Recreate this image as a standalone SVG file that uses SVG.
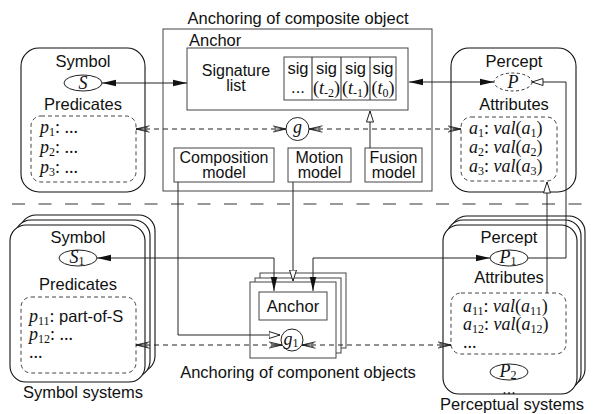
<svg xmlns="http://www.w3.org/2000/svg" width="598" height="414" viewBox="0 0 598 414">
  <style>
    .t { font-family: "Liberation Sans", Arial, sans-serif; font-size: 16.5px; fill: #111; }
    .t2 { font-family: "Liberation Sans", Arial, sans-serif; font-size: 16px; fill: #111; }
    .c { text-anchor: middle; }
    .m { font-family: "Liberation Serif", "Times New Roman", serif; font-size: 18px; fill: #111; }
    .i { font-style: italic; }
    .sb { font-size: 12px; }
    .sys { fill: #fff; stroke: #111; stroke-width: 1.1; }
    .box { fill: #fff; stroke: #444; stroke-width: 1; }
    .dbox { fill: none; stroke: #444; stroke-width: 1; stroke-dasharray: 4 3; }
    .ln { fill: none; stroke: #222; stroke-width: 1; }
    .dl { fill: none; stroke: #222; stroke-width: 1; stroke-dasharray: 5 4; }
    .ell { fill: #fff; stroke: #222; stroke-width: 1; }
  </style>
  <defs>
    <marker id="fill" viewBox="0 0 14 8" refX="14" refY="4" markerWidth="14" markerHeight="8" markerUnits="userSpaceOnUse" orient="auto-start-reverse">
      <path d="M0 0.8 L14 4 L0 7.2 Z" fill="#111"/>
    </marker>
    <marker id="tri" viewBox="0 0 12 8" refX="11.5" refY="4" markerWidth="12" markerHeight="8" markerUnits="userSpaceOnUse" orient="auto-start-reverse">
      <path d="M0.5 0.5 L11.5 4 L0.5 7.5 Z" fill="#fff" stroke="#222" stroke-width="1"/>
    </marker>
    <marker id="vee" viewBox="0 0 14 8" refX="13.5" refY="4" markerWidth="14" markerHeight="8" markerUnits="userSpaceOnUse" orient="auto-start-reverse">
      <path d="M0 0.8 L13.5 4 L0 7.2 M2 2.6 L13.5 4 L2 5.4" fill="none" stroke="#222" stroke-width="0.9"/>
    </marker>
  </defs>

  <!-- separator between composite and component level -->
  <line x1="12" y1="204" x2="592" y2="204" stroke="#333" stroke-width="1" stroke-dasharray="13 13.5"/>

  <!-- symbol system (composite) -->
  <g id="symbol-top">
    <rect class="sys" x="21" y="48" width="124" height="144" rx="18"/>
    <text class="t c" x="83" y="67">Symbol</text>
    <ellipse class="ell" cx="83" cy="83" rx="19" ry="8"/>
    <text class="m i c" x="83" y="89">S</text>
    <text class="t c" x="83" y="110">Predicates</text>
    <rect class="dbox" x="31" y="116" width="105" height="66" rx="10"/>
    <text class="m" x="40" y="133"><tspan class="i">p</tspan><tspan class="sb" dy="3">1</tspan><tspan dy="-3">: ...</tspan></text>
    <text class="m" x="40" y="153"><tspan class="i">p</tspan><tspan class="sb" dy="3">2</tspan><tspan dy="-3">: ...</tspan></text>
    <text class="m" x="40" y="173"><tspan class="i">p</tspan><tspan class="sb" dy="3">3</tspan><tspan dy="-3">: ...</tspan></text>
  </g>

  <!-- anchor of the composite object -->
  <g id="anchor-composite">
    <text class="t c" x="298" y="24">Anchoring of composite object</text>
    <rect class="box" x="163" y="29" width="269" height="162"/>
    <text class="t" x="189" y="46">Anchor</text>
    <rect class="box" x="187" y="48" width="221" height="62"/>
    <text class="t2 c" x="236" y="76">Signature</text>
    <text class="t2 c" x="236" y="91">list</text>
    <rect class="box" x="284" y="57" width="112" height="43"/>
    <line class="ln" x1="312" y1="57" x2="312" y2="100" stroke="#444"/>
    <line class="ln" x1="341" y1="57" x2="341" y2="100" stroke="#444"/>
    <line class="ln" x1="370" y1="57" x2="370" y2="100" stroke="#444"/>
    <text class="t c" x="298" y="74">sig</text>
    <text class="t c" x="326.5" y="74">sig</text>
    <text class="t c" x="355.5" y="74">sig</text>
    <text class="t c" x="383" y="74">sig</text>
    <text class="t c" x="298" y="93">...</text>
    <text class="m c" x="326.5" y="94">(<tspan class="i">t</tspan><tspan class="sb" dy="3">-2</tspan><tspan dy="-3">)</tspan></text>
    <text class="m c" x="355.5" y="94">(<tspan class="i">t</tspan><tspan class="sb" dy="3">-1</tspan><tspan dy="-3">)</tspan></text>
    <text class="m c" x="383" y="94">(<tspan class="i">t</tspan><tspan class="sb" dy="3">0</tspan><tspan dy="-3">)</tspan></text>
    <circle class="ell" cx="297.5" cy="129" r="11.5"/>
    <text class="m i c" x="297.5" y="133">g</text>
    <rect class="box" x="174" y="148" width="100" height="34"/>
    <text class="t2 c" x="224" y="163">Composition</text>
    <text class="t2 c" x="224" y="178">model</text>
    <rect class="box" x="288" y="148" width="63" height="34"/>
    <text class="t2 c" x="319.5" y="163">Motion</text>
    <text class="t2 c" x="319.5" y="178">model</text>
    <rect class="box" x="365" y="148" width="57" height="34"/>
    <text class="t2 c" x="393.5" y="163">Fusion</text>
    <text class="t2 c" x="393.5" y="178">model</text>
  </g>

  <!-- perceptual system (composite) -->
  <g id="percept-top">
    <rect class="sys" x="451" y="48" width="125" height="144" rx="18"/>
    <text class="t c" x="514" y="67">Percept</text>
    <ellipse cx="513" cy="82" rx="19" ry="9" fill="#fff" stroke="#333" stroke-dasharray="3 2.5"/>
    <text class="m i c" x="513" y="88">P</text>
    <text class="t c" x="514" y="110">Attributes</text>
    <rect class="dbox" x="461" y="117" width="96" height="64" rx="10"/>
    <text class="m" x="469" y="134"><tspan class="i">a</tspan><tspan class="sb" dy="3">1</tspan><tspan dy="-3">: </tspan><tspan class="i">val</tspan>(<tspan class="i">a</tspan><tspan class="sb" dy="3">1</tspan><tspan dy="-3">)</tspan></text>
    <text class="m" x="469" y="153"><tspan class="i">a</tspan><tspan class="sb" dy="3">2</tspan><tspan dy="-3">: </tspan><tspan class="i">val</tspan>(<tspan class="i">a</tspan><tspan class="sb" dy="3">2</tspan><tspan dy="-3">)</tspan></text>
    <text class="m" x="469" y="172"><tspan class="i">a</tspan><tspan class="sb" dy="3">3</tspan><tspan dy="-3">: </tspan><tspan class="i">val</tspan>(<tspan class="i">a</tspan><tspan class="sb" dy="3">3</tspan><tspan dy="-3">)</tspan></text>
  </g>

  <!-- symbol systems (components) -->
  <g id="symbol-systems">
    <rect class="sys" x="20" y="215" width="135" height="157" rx="16"/>
    <rect class="sys" x="15" y="220" width="135" height="157" rx="16"/>
    <rect class="sys" x="10" y="225" width="135" height="157" rx="16"/>
    <text class="t c" x="78" y="243">Symbol</text>
    <ellipse class="ell" cx="78" cy="258" rx="19" ry="8"/>
    <text class="m c" x="77" y="263"><tspan class="i">S</tspan><tspan class="sb" dy="2">1</tspan></text>
    <text class="t c" x="78" y="290">Predicates</text>
    <rect class="dbox" x="21" y="297" width="115" height="76" rx="10"/>
    <text class="m" x="29" y="322"><tspan class="i">p</tspan><tspan class="sb" dy="3">11</tspan><tspan dy="-3">: </tspan><tspan class="t">part-of-S</tspan></text>
    <text class="m" x="29" y="340"><tspan class="i">p</tspan><tspan class="sb" dy="3">12</tspan><tspan dy="-3">: ...</tspan></text>
    <text class="m" x="29" y="358">...</text>
    <text class="t c" x="83" y="398">Symbol systems</text>
  </g>

  <!-- anchors of the component objects -->
  <g id="anchor-components">
    <rect class="box" x="260" y="273" width="86" height="75"/>
    <rect class="box" x="255" y="278" width="86" height="75"/>
    <rect class="box" x="250" y="282" width="86" height="76"/>
    <rect class="box" x="259" y="292" width="68" height="28"/>
    <text class="t c" x="293" y="312">Anchor</text>
    <circle class="ell" cx="292" cy="340" r="11"/>
    <text class="m c" x="291" y="345"><tspan class="i">g</tspan><tspan class="sb" dy="2">1</tspan></text>
    <text class="t c" x="298" y="378">Anchoring of component objects</text>
  </g>

  <!-- perceptual systems (components) -->
  <g id="perceptual-systems">
    <rect class="sys" x="451" y="216" width="134" height="169" rx="16"/>
    <rect class="sys" x="447" y="220" width="134" height="169" rx="16"/>
    <rect class="sys" x="443" y="225" width="134" height="169" rx="16"/>
    <text class="t c" x="509" y="243">Percept</text>
    <ellipse class="ell" cx="509" cy="258" rx="19" ry="8"/>
    <text class="m c" x="508" y="263"><tspan class="i">P</tspan><tspan class="sb" dy="2">1</tspan></text>
    <text class="t c" x="509" y="283">Attributes</text>
    <rect class="dbox" x="451" y="293" width="115" height="61" rx="10"/>
    <text class="m" x="463" y="312"><tspan class="i">a</tspan><tspan class="sb" dy="3">11</tspan><tspan dy="-3">: </tspan><tspan class="i">val</tspan>(<tspan class="i">a</tspan><tspan class="sb" dy="3">11</tspan><tspan dy="-3">)</tspan></text>
    <text class="m" x="463" y="330"><tspan class="i">a</tspan><tspan class="sb" dy="3">12</tspan><tspan dy="-3">: </tspan><tspan class="i">val</tspan>(<tspan class="i">a</tspan><tspan class="sb" dy="3">12</tspan><tspan dy="-3">)</tspan></text>
    <text class="m" x="463" y="348">...</text>
    <ellipse class="ell" cx="509" cy="372" rx="19" ry="8"/>
    <text class="m c" x="508" y="377"><tspan class="i">P</tspan><tspan class="sb" dy="2">2</tspan></text>
    <text class="t2 c" x="509" y="394">...</text>
    <text class="t c" x="512" y="410">Perceptual systems</text>
  </g>

  <!-- connectors -->
  <g id="connectors">
    <path class="ln" d="M102 83 H187" marker-start="url(#fill)" marker-end="url(#fill)"/>
    <path class="ln" d="M409 82 H494" marker-start="url(#fill)" marker-end="url(#fill)"/>
    <path class="dl" d="M136 129 H286" marker-start="url(#vee)" marker-end="url(#vee)"/>
    <path class="dl" d="M309 129 H461" marker-start="url(#vee)" marker-end="url(#vee)"/>
    <path class="ln" d="M370 148 V111" marker-end="url(#tri)"/>
    <path class="ln" d="M178 182 V335 H280" marker-end="url(#tri)"/>
    <path class="ln" d="M293 182 V281" marker-end="url(#tri)"/>
    <path class="ln" d="M97 258 H274 V291" marker-start="url(#fill)" marker-end="url(#fill)"/>
    <path class="ln" d="M490 258 H313 V291" marker-start="url(#fill)" marker-end="url(#fill)"/>
    <path class="dl" d="M136 345 H282" marker-start="url(#vee)" marker-end="url(#vee)"/>
    <path class="dl" d="M302 345 H451" marker-start="url(#vee)" marker-end="url(#vee)"/>
    <path class="ln" d="M528 258 H566 V82 H532" marker-end="url(#tri)"/>
    <path class="ln" d="M547 293 V182" marker-end="url(#tri)"/>
  </g>
</svg>
